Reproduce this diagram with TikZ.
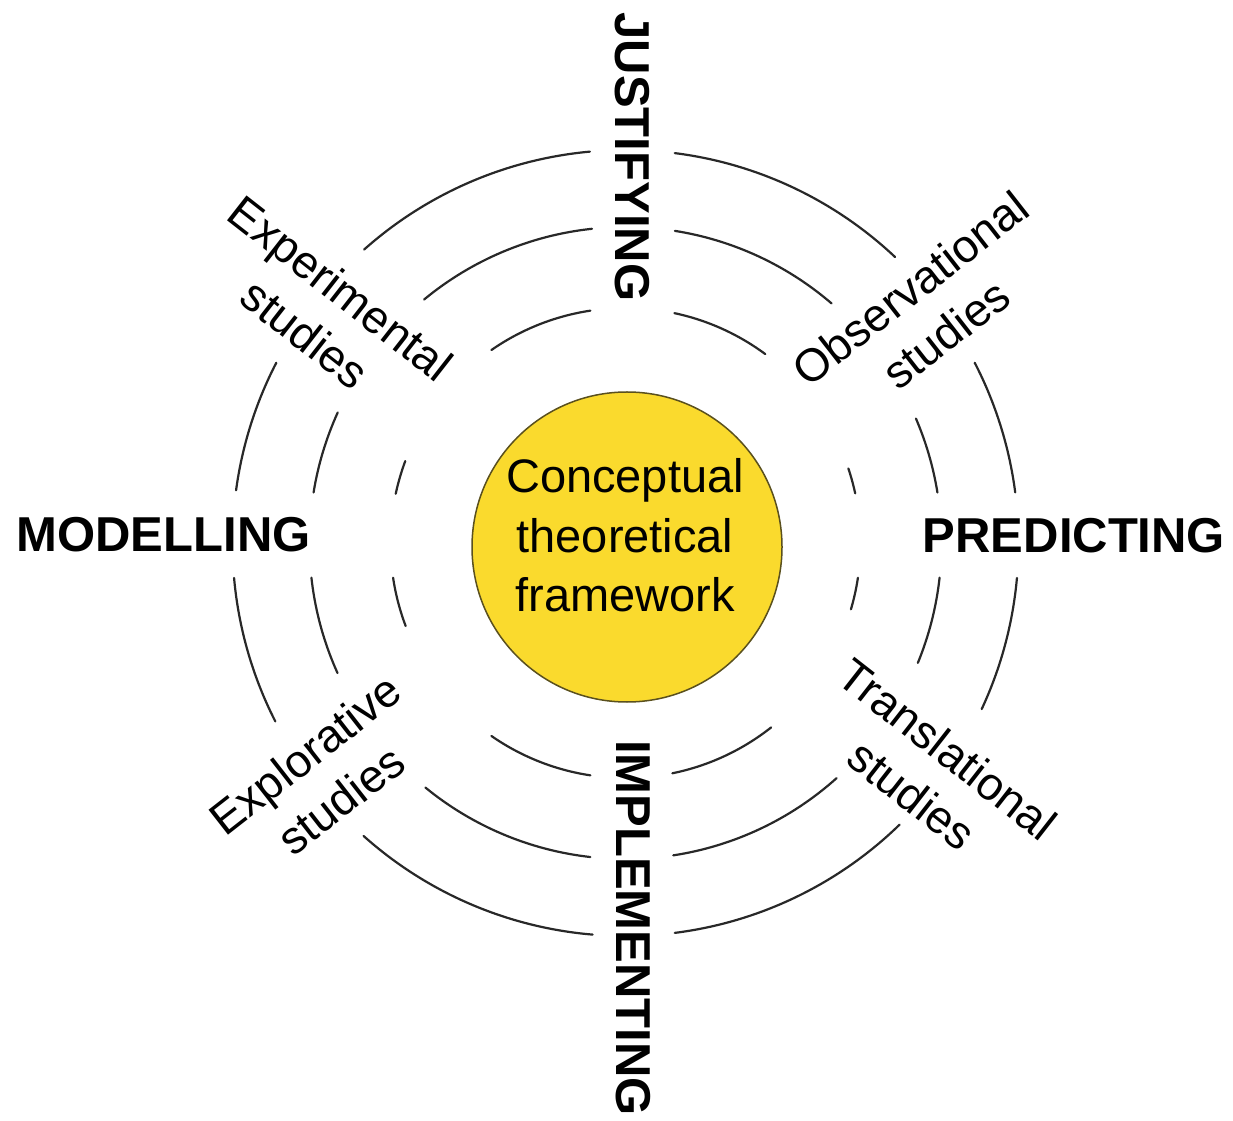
\documentclass[tikz,border=0pt]{standalone}
\usepackage{fontspec}
\setmainfont{Liberation Sans}
\definecolor{ringcol}{RGB}{40,40,40}
\definecolor{coreyellow}{RGB}{250,218,45}
\definecolor{coreedge}{RGB}{90,80,30}
\begin{document}
\begin{tikzpicture}[x=1pt,y=1pt,
  ring/.style={draw=ringcol, line width=2.2pt, line cap=round},
  biglabel/.style={font=\fontsize{49}{59}\selectfont\bfseries, inner sep=0pt, anchor=base},
  studylabel/.style={font=\fontsize{46}{58}\selectfont, align=center, inner sep=0pt},
  coretext/.style={font=\fontsize{47}{59}\selectfont, inner sep=0pt, anchor=base, text=black}]
\useasboundingbox (0,0) rectangle (1233,1120);
\fill[white] (0,0) rectangle (1233,1120);
\coordinate (O) at (625.5,577);
% outer ring
\foreach \a/\b in {95.2/131.7, 46.7/82.8, 152.7/172.3, 185.1/207, 228.2/265.2, 277.2/314.2, 335/354.9, 7.4/27.3}{
  \draw[ring] (O) ++(\a:393) arc[start angle=\a, end angle=\b, radius=393];
}
% middle ring
\foreach \a/\b in {96.1/129.6, 49.3/81, 155.6/170.8, 186.3/204.3, 230.7/263.6, 278.7/311.9, 337.7/353.7, 9.2/23.2}{
  \draw[ring] (O) ++(\a:316) arc[start angle=\a, end angle=\b, radius=316];
}
% inner ring
\foreach \a/\b in {98.6/124.8, 53.5/78, 159.6/167.9, 188.5/200.7, 235.2/261.4, 281.5/308.3, 343.6/351.5, 12.2/18.5}{
  \draw[ring] (O) ++(\a:235) arc[start angle=\a, end angle=\b, radius=235];
}
% core
\node[circle, minimum size=310pt, fill=coreyellow, draw=coreedge, line width=1.5pt, inner sep=0pt] (core) at (627,573) {};
\node[coretext] (c1) at (625,627) {Conceptual};
\node[coretext] (c2) at (625,567) {theoretical};
\node[coretext] (c3) at (625,508) {framework};
% main labels
\node[biglabel] (mod) at (163.5,568) {MODELLING};
\node[biglabel] (pred) at (1074,567) {PREDICTING};
\node[biglabel, rotate=-90] (just) at (615,963) {JUSTIFYING};
\node[biglabel, rotate=-90] (impl) at (616,192) {IMPLEMENTING};
% study labels
\node[studylabel, rotate=-38] (exp) at (323,809) {Experimental\\studies};
\node[studylabel, rotate=38] (obs) at (928,809) {Observational\\studies};
\node[studylabel, rotate=38] (expl) at (323,343) {Explorative\\studies};
\node[studylabel, rotate=-38] (trans) at (930,348) {Translational\\studies};
\end{tikzpicture}
\end{document}
